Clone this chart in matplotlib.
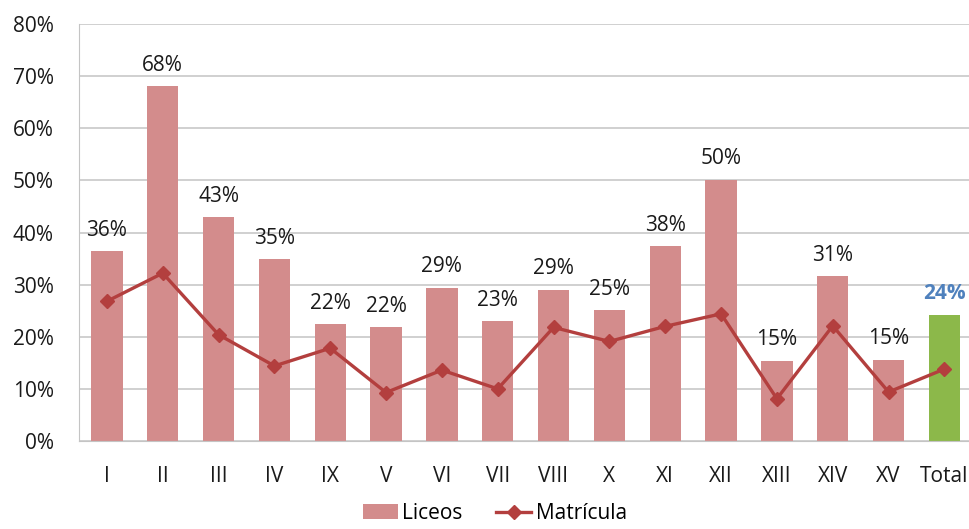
import matplotlib
matplotlib.use("Agg")
import matplotlib.pyplot as plt
import numpy as np
from matplotlib.ticker import FuncFormatter, MultipleLocator

categories = ["I", "II", "III", "IV", "IX", "V", "VI", "VII", "VIII", "X",
              "XI", "XII", "XIII", "XIV", "XV", "Total"]
liceos = [36.4, 68.1, 42.9, 34.9, 22.4, 21.8, 29.4, 23.0, 29.0, 25.1,
          37.4, 50.1, 15.4, 31.6, 15.6, 24.2]
matricula = [26.8, 32.2, 20.4, 14.4, 17.8, 9.3, 13.6, 10.0, 21.8, 19.1,
             22.0, 24.4, 8.1, 22.1, 9.4, 13.8]
labels = ["36%", "68%", "43%", "35%", "22%", "22%", "29%", "23%", "29%", "25%",
          "38%", "50%", "15%", "31%", "15%", "24%"]

plt.rcParams['font.family'] = ['Open Sans', 'DejaVu Sans']

fig = plt.figure(figsize=(9.7, 5.29), dpi=100)
ax = fig.add_axes([0.0814, 0.1664, 0.921, 0.788])

x = np.arange(len(categories))
bar_colors = ["#D38C8C"] * (len(categories) - 1) + ["#8CB84A"]
bars = ax.bar(x, liceos, width=0.56, color=bar_colors, zorder=2, label="Liceos")
line, = ax.plot(x, matricula, color="#B33F3E", lw=2.4, marker="D", ms=7.5,
                zorder=3, label="Matrícula")

for i, (v, t) in enumerate(zip(liceos, labels)):
    if categories[i] == "Total":
        ax.text(i, v + 2.0, t, ha="center", va="bottom", fontsize=15,
                color="#4F81BD", fontweight="bold")
    else:
        ax.text(i, v + 2.0, t, ha="center", va="bottom", fontsize=15,
                color="#1A1A1A")

ax.set_xlim(-0.5, len(categories) - 0.5)
ax.set_ylim(0, 80)
ax.yaxis.set_major_locator(MultipleLocator(10))
ax.yaxis.set_major_formatter(FuncFormatter(lambda v, p: f"{int(v)}%"))
ax.set_xticks(x)
ax.set_xticklabels(categories)
ax.tick_params(axis="both", labelsize=15, colors="#1A1A1A", length=0)
ax.tick_params(axis="x", pad=18)
ax.tick_params(axis="y", pad=18)
ax.grid(axis="y", color="#C4C4C4", lw=1.1, zorder=0)
for s in ["top", "right"]:
    ax.spines[s].set_visible(False)
ax.spines["left"].set_color("#C4C4C4")
ax.spines["bottom"].set_color("#C4C4C4")

fig.legend(handles=[bars, line], labels=["Liceos", "Matrícula"],
           loc="lower center", bbox_to_anchor=(0.51, -0.026), ncol=2, frameon=False,
           fontsize=15, handlelength=1.7, columnspacing=1.6, handletextpad=0.2)

fig.savefig("out.png", dpi=100)
